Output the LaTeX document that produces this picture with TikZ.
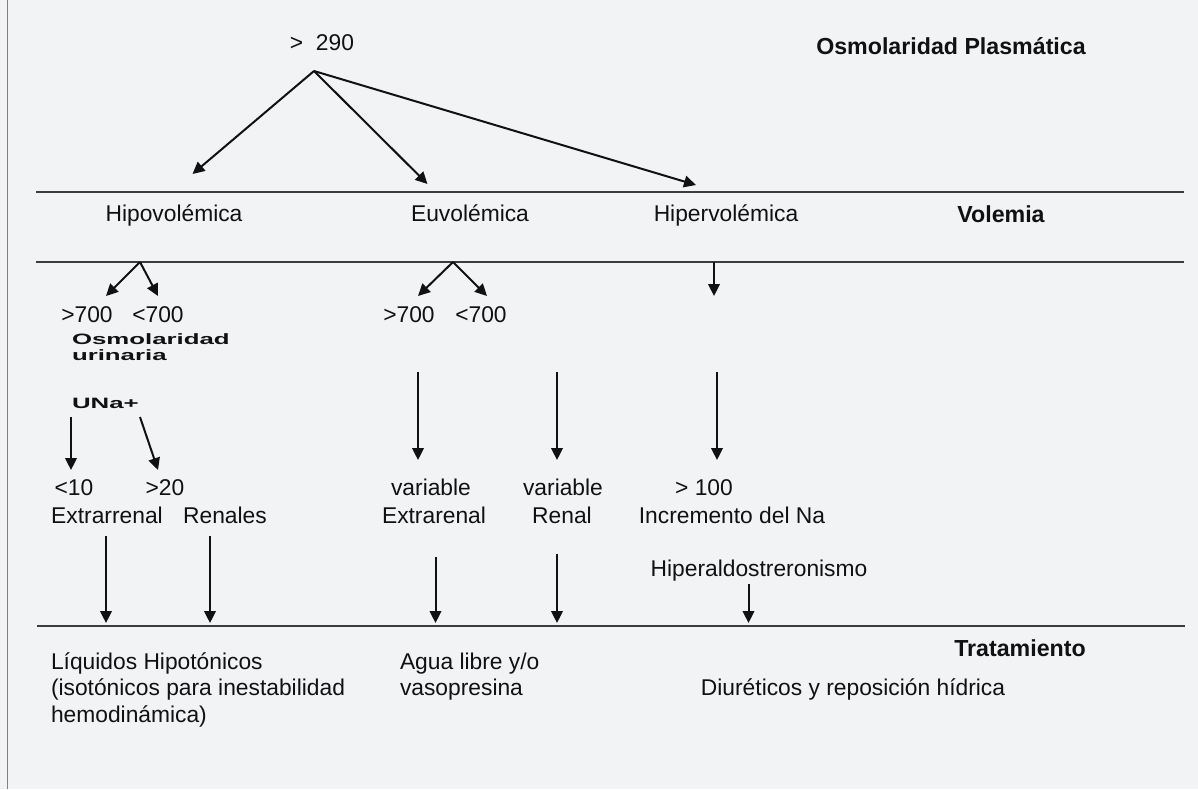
\documentclass[tikz,border=0pt]{standalone}
\usepackage{fontspec}
\setmainfont{Liberation Sans}
\newfontfamily\widebold[FakeStretch=1.72]{Liberation Sans Bold}
\usetikzlibrary{arrows.meta}
\definecolor{bg}{RGB}{242,243,245}
\definecolor{ink}{RGB}{17,17,17}
\definecolor{rule}{RGB}{60,60,60}
\definecolor{border}{RGB}{128,128,128}
\tikzset{
  txt/.style={inner sep=0pt, outer sep=0pt, text=ink, anchor=base, font=\fontsize{11.4}{13.7}\selectfont},
  txtl/.style={txt, anchor=base west},
  btxt/.style={txt, font=\fontsize{11.6}{13.9}\selectfont\bfseries},
  wtxt/.style={txt, anchor=base west, font=\fontsize{7.5}{8}\selectfont\widebold},
  arr/.style={draw=ink, line width=1pt, -{Triangle[length=6pt,width=5.8pt]}},
  hrule/.style={draw=rule, line width=0.6pt},
}
\begin{document}
\begin{tikzpicture}[x=0.5pt,y=-0.5pt]
\fill[bg] (0,0) rectangle (1198,789);
\useasboundingbox (0,0) rectangle (1198,789);
% left border
\coordinate (bt) at (7.5,0);
\coordinate (bb) at (7.5,789);
\draw[border, line width=0.65pt] (bt) -- (bb);
% horizontal rules
\coordinate (r1a) at (36,192); \coordinate (r1b) at (1184,192);
\coordinate (r2a) at (36,262); \coordinate (r2b) at (1184,262);
\coordinate (r3a) at (37,626); \coordinate (r3b) at (1185,626);
\draw[hrule] (r1a) -- (r1b);
\draw[hrule] (r2a) -- (r2b);
\draw[hrule] (r3a) -- (r3b);
% texts
\node[txt] (n290) at (322,50) {>\ \ 290};
\node[btxt] (title) at (951,54) {Osmolaridad Plasmática};
\node[txt] (hipo) at (174,221) {Hipovolémica};
\node[txt] (euvo) at (470,221) {Euvolémica};
\node[txt] (hiper) at (726,221) {Hipervolémica};
\node[btxt] (volemia) at (1001,222) {Volemia};
\node[txt] (hgt) at (87,322) {>700};
\node[txt] (hlt) at (158,322) {<700};
\node[txt] (egt) at (409,322) {>700};
\node[txt] (elt) at (481,322) {<700};
\node[wtxt] (osm1) at (72,344) {Osmolaridad};
\node[wtxt] (osm2) at (72,360) {urinaria};
\node[wtxt] (una) at (72,408) {UNa+};
\node[txt] (l10) at (74,495) {<10};
\node[txt] (g20) at (165,495) {>20};
\node[txt] (extra) at (107,523) {Extrarrenal};
\node[txt] (renales) at (225,523) {Renales};
\node[txt] (var1) at (431,495) {variable};
\node[txt] (extra2) at (434,523) {Extrarenal};
\node[txt] (var2) at (563,495) {variable};
\node[txt] (renal) at (562,523) {Renal};
\node[txt] (g100) at (704,495) {> 100};
\node[txt] (incr) at (732,523) {Incremento del Na};
\node[txt] (hiperal) at (759,576) {Hiperaldostreronismo};
\node[btxt] (trat) at (1020,656) {Tratamiento};
\node[txtl] (liq1) at (51,669) {Líquidos Hipotónicos};
\node[txtl] (liq2) at (51,695.5) {(isotónicos para inestabilidad};
\node[txtl] (liq3) at (51,722) {hemodinámica)};
\node[txtl] (agua1) at (400,669) {Agua libre y/o};
\node[txtl] (agua2) at (400,695.5) {vasopresina};
\node[txt] (diur) at (853,695) {Diuréticos y reposición hídrica};
% arrow end points
\coordinate (o) at (314,71);
\coordinate (oA) at (192.5,174);
\coordinate (oB) at (427.5,184);
\coordinate (oC) at (696,185);
\coordinate (hb) at (140,262);
\coordinate (hbA) at (106,296);
\coordinate (hbB) at (158,296);
\coordinate (eb) at (453,262);
\coordinate (ebA) at (418,296);
\coordinate (ebB) at (487,296);
\coordinate (pb) at (714,262);
\coordinate (pbA) at (714,296);
\coordinate (u1s) at (71,417); \coordinate (u1e) at (71,470);
\coordinate (u2s) at (140,417); \coordinate (u2e) at (158,470);
\coordinate (x1s) at (106,536); \coordinate (x1e) at (106,623);
\coordinate (x2s) at (210,536); \coordinate (x2e) at (210,623);
\coordinate (v1s) at (418,372); \coordinate (v1e) at (418,460);
\coordinate (v2s) at (557,372); \coordinate (v2e) at (557,460);
\coordinate (p1s) at (717,372); \coordinate (p1e) at (717,460);
\coordinate (w1s) at (435.5,557); \coordinate (w1e) at (435.5,623);
\coordinate (w2s) at (557,554); \coordinate (w2e) at (557,623);
\coordinate (q1s) at (748.5,584); \coordinate (q1e) at (748.5,623);
% arrows
\draw[arr] (o) -- (oA);
\draw[arr] (o) -- (oB);
\draw[arr] (o) -- (oC);
\draw[arr] (hb) -- (hbA);
\draw[arr] (hb) -- (hbB);
\draw[arr] (eb) -- (ebA);
\draw[arr] (eb) -- (ebB);
\draw[arr] (pb) -- (pbA);
\draw[arr] (u1s) -- (u1e);
\draw[arr] (u2s) -- (u2e);
\draw[arr] (x1s) -- (x1e);
\draw[arr] (x2s) -- (x2e);
\draw[arr] (v1s) -- (v1e);
\draw[arr] (v2s) -- (v2e);
\draw[arr] (p1s) -- (p1e);
\draw[arr] (w1s) -- (w1e);
\draw[arr] (w2s) -- (w2e);
\draw[arr] (q1s) -- (q1e);
\end{tikzpicture}
\end{document}
